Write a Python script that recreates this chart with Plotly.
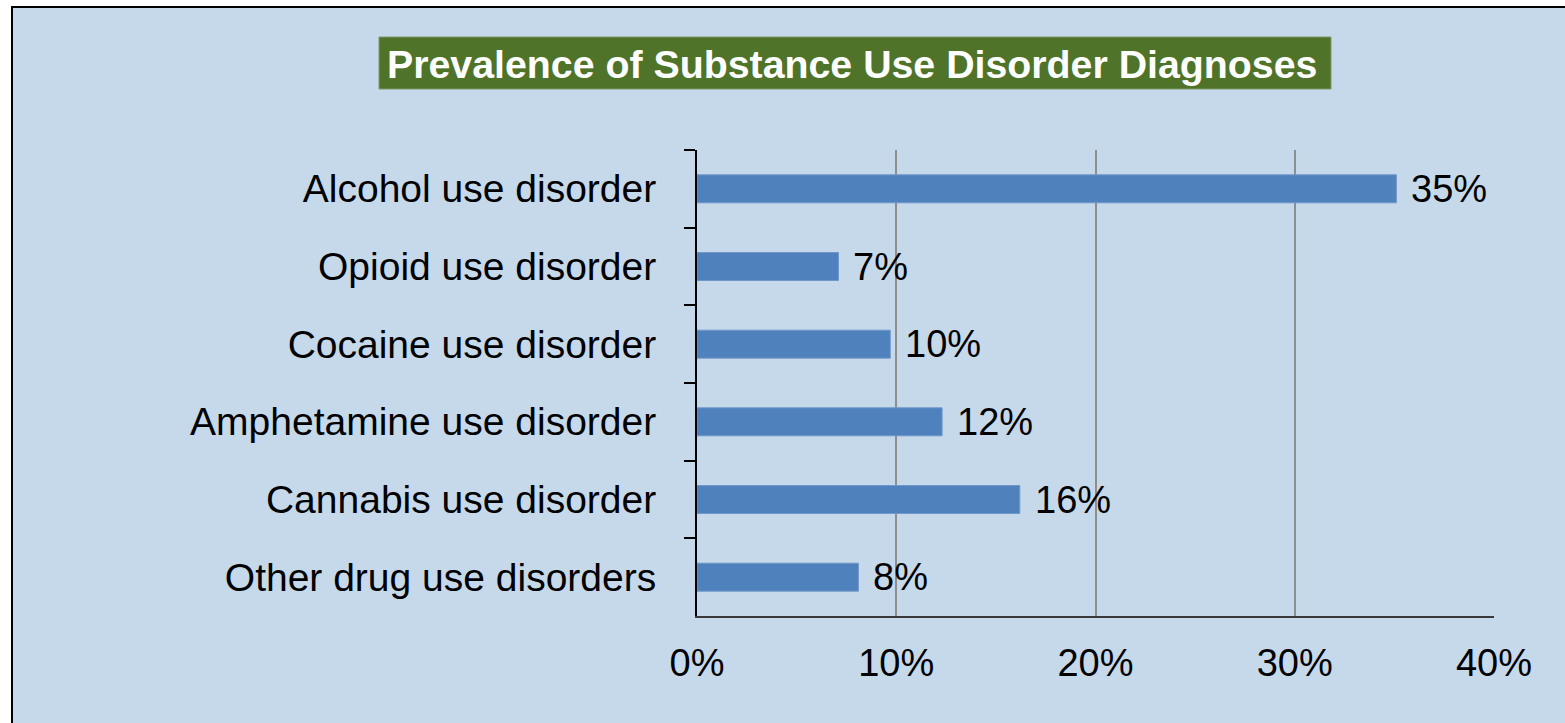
import plotly.graph_objects as go

categories = ["Alcohol use disorder", "Opioid use disorder", "Cocaine use disorder",
              "Amphetamine use disorder", "Cannabis use disorder", "Other drug use disorders"]
values = [35.1, 7.1, 9.7, 12.3, 16.2, 8.1]
labels = ["35%", "7%", "10%", "12%", "16%", "8%"]
x_ticks = [0, 10, 20, 30, 40]
x_ticklabels = ["0%", "10%", "20%", "30%", "40%"]
title_text = "Prevalence of Substance Use Disorder Diagnoses"

BG = "#C6D9EA"
BAR = "#4F81BD"
GREEN = "#4E7329"
FONT = "Liberation Sans, Arial, sans-serif"

W, H = 1565, 723
L, R, T, B = 697, 71, 150, 107
PW, PH = W - L - R, H - T - B

def px(x):
    return (x - L) / PW

def py(y):
    return (H - B - y) / PH

fig = go.Figure()
fig.add_trace(go.Bar(
    x=values, y=categories, orientation="h",
    marker=dict(color=BAR, line=dict(color="#6F97C9", width=1)),
    hoverinfo="skip",
))

for v, c, t in zip(values, categories, labels):
    fig.add_annotation(x=v, y=c, text=t, showarrow=False, xanchor="left",
                       yanchor="middle", xshift=13,
                       font=dict(family=FONT, size=38, color="black"))

fig.add_shape(type="rect", xref="paper", yref="paper",
              x0=px(12), x1=px(1600), y0=py(760), y1=py(7),
              fillcolor=BG, line=dict(color="black", width=2), layer="below")
fig.add_shape(type="rect", xref="paper", yref="paper",
              x0=px(379), x1=px(1331), y0=py(89), y1=py(37),
              fillcolor=GREEN, line=dict(color="#7F9A6A", width=1), layer="below")
fig.add_annotation(xref="paper", yref="paper", x=px(852), y=py(64),
                   text="<b>" + title_text + "</b>", showarrow=False,
                   xanchor="center", yanchor="middle",
                   font=dict(family=FONT, size=39.3, color="white"))

fig.update_layout(
    width=W, height=H,
    margin=dict(l=L, r=R, t=T, b=B, pad=0),
    paper_bgcolor="white", plot_bgcolor="rgba(0,0,0,0)",
    showlegend=False, bargap=0.64,
    font=dict(family=FONT, size=38, color="black"),
    xaxis=dict(range=[0, 40], tickvals=x_ticks, ticktext=x_ticklabels,
               showgrid=True, gridcolor="#8E8E8E", gridwidth=1.5,
               zeroline=False, showline=True, linecolor="#3A3A3A", linewidth=2,
               ticks="", ticklabelstandoff=12,
               tickfont=dict(family=FONT, size=38, color="black"), fixedrange=True),
    yaxis=dict(categoryorder="array", categoryarray=categories, autorange="reversed",
               showgrid=False, zeroline=False, showline=True, linecolor="black",
               linewidth=2, ticks="outside", tickson="boundaries", ticklen=11,
               tickwidth=2, tickcolor="black", ticklabelstandoff=31,
               tickfont=dict(family=FONT, size=39, color="black"), fixedrange=True),
)

fig.write_html("out.html")
